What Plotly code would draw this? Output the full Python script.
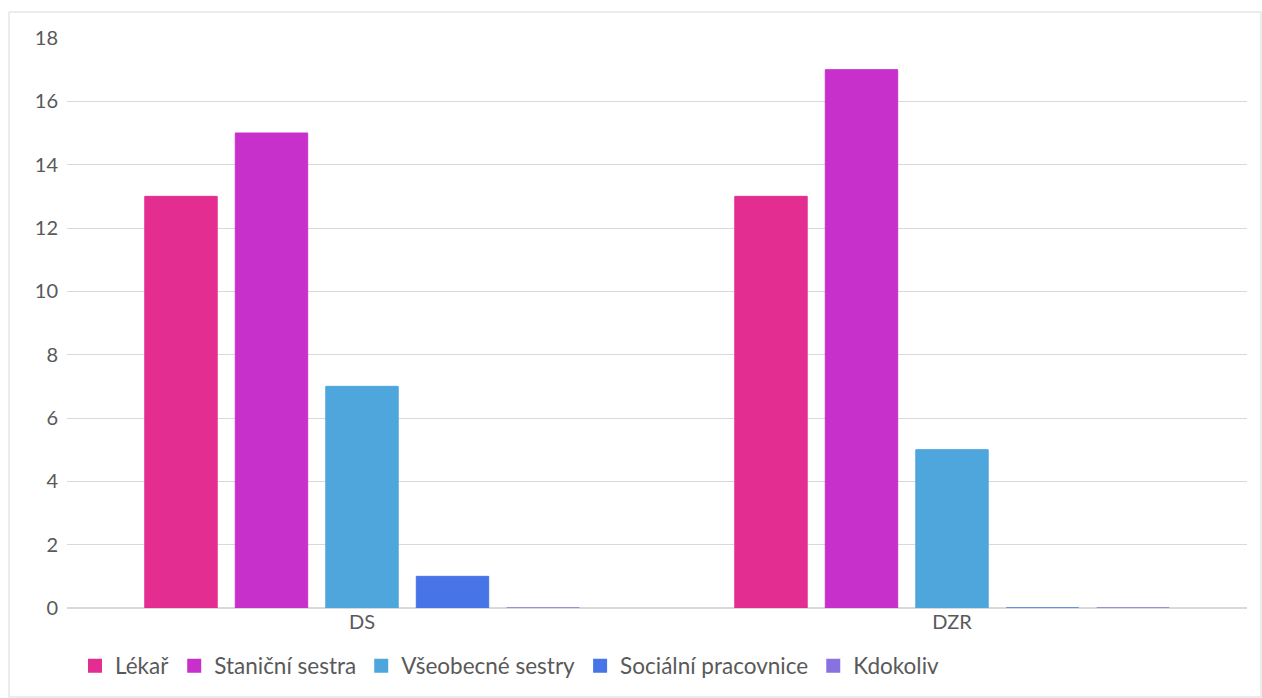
import plotly.graph_objects as go

categories = ["DS", "DZR"]
series_names = ["Lékař", "Staniční sestra", "Všeobecné sestry", "Sociální pracovnice", "Kdokoliv"]
lekar = [13, 13]
stanicni = [15, 17]
vseobecne = [7, 5]
socialni = [1, 0]
kdokoliv = [0, 0]
colors = ["#E32D91", "#C830CC", "#4EA6DC", "#4775E7", "#8971E1"]
y_ticks = [0, 2, 4, 6, 8, 10, 12, 14, 16, 18]

W, H = 1262, 698
ML, MR, MT, MB = 67, 15, 38, 90
font_family = "Lato, 'Open Sans', sans-serif"

fig = go.Figure()
for name, vals, col in zip(series_names, [lekar, stanicni, vseobecne, socialni, kdokoliv], colors):
    fig.add_trace(go.Bar(
        x=categories, y=vals, name=name,
        marker=dict(color=col, line=dict(color=col, width=1)),
    ))

pw = W - ML - MR
ph = H - MT - MB
# outer chart frame
fig.add_shape(type="rect", xref="paper", yref="paper",
              x0=(9 - ML) / pw, x1=(1261 - ML) / pw,
              y0=-(697 - MT - ph) / ph, y1=(MT - 12) / ph + 1,
              line=dict(color="#D9D9D9", width=1), layer="below")

fig.update_layout(
    width=W, height=H,
    margin=dict(l=ML, r=MR, t=MT, b=MB),
    paper_bgcolor="white", plot_bgcolor="white",
    barmode="group", bargap=0.233, bargroupgap=0.2,
    font=dict(family=font_family, size=20, color="#595959"),
    showlegend=True,
    legend=dict(orientation="h", xref="container", yref="container",
                x=75 / W, xanchor="left", y=1 - 666 / H, yanchor="middle",
                font=dict(size=22.5, color="#595959"), itemsizing="constant",
                traceorder="normal"),
    xaxis=dict(showgrid=False, showline=False, ticks="", tickfont=dict(size=20)),
    yaxis=dict(range=[0, 18], tickvals=y_ticks, showgrid=True, gridcolor="#D9D9D9",
               gridwidth=1, zeroline=True, zerolinecolor="#D9D9D9", zerolinewidth=2,
               showline=False, ticks="", ticklabelstandoff=8, tickfont=dict(size=20)),
)

fig.write_html("out.html")
